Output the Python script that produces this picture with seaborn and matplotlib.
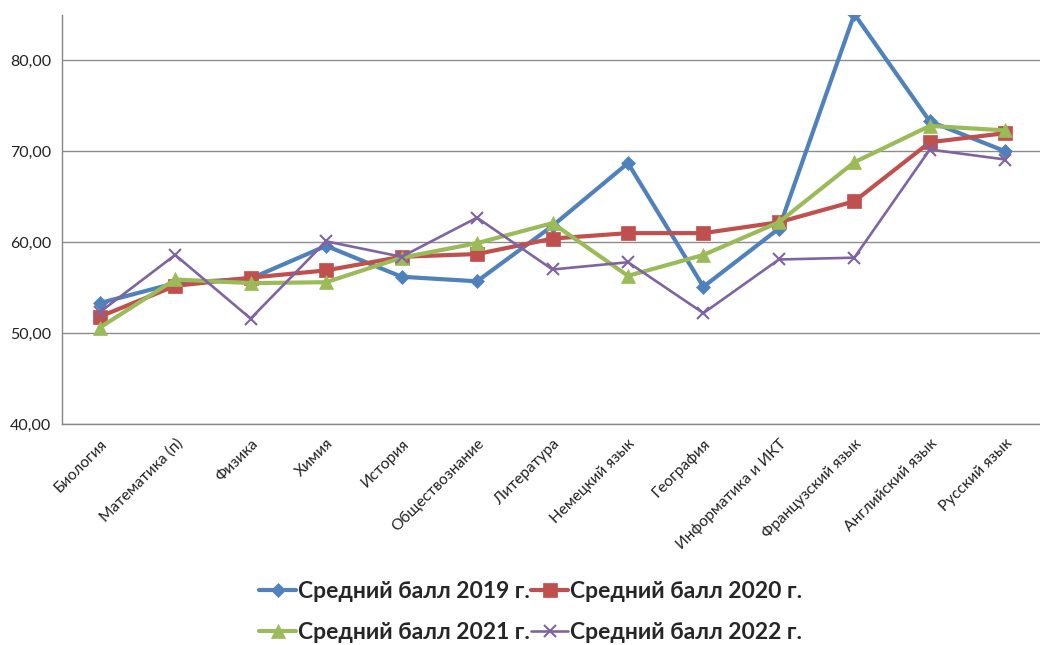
import numpy as np
import pandas as pd
import matplotlib
matplotlib.use("Agg")
import matplotlib.pyplot as plt
import matplotlib.transforms as mtransforms
import seaborn as sns
from matplotlib.ticker import FuncFormatter, MultipleLocator

categories = ['Биология', 'Математика (п)', 'Физика', 'Химия', 'История',
              'Обществознание', 'Литература', 'Немецкий язык', 'География',
              'Информатика и ИКТ', 'Французский язык', 'Английский язык',
              'Русский язык']
score_2019 = [53.3, 55.5, 56.0, 59.6, 56.2, 55.7, 61.8, 68.7, 55.1, 61.5, 85.1, 73.3, 70.0]
score_2020 = [51.8, 55.2, 56.1, 56.9, 58.4, 58.7, 60.4, 61.0, 61.0, 62.2, 64.5, 71.0, 72.0]
score_2021 = [50.6, 55.9, 55.5, 55.6, 58.3, 59.9, 62.1, 56.3, 58.6, 62.2, 68.8, 72.8, 72.3]
score_2022 = [52.3, 58.6, 51.6, 60.1, 58.4, 62.7, 57.0, 57.8, 52.2, 58.1, 58.3, 70.2, 69.1]
series_names = ['Средний балл 2019 г.', 'Средний балл 2020 г.',
                'Средний балл 2021 г.', 'Средний балл 2022 г.']

sns.set_theme(style="white")
plt.rcParams['font.family'] = ['Lato', 'DejaVu Sans']

fig = plt.figure(figsize=(10.4, 6.45), dpi=100)
ax = fig.add_axes([62/1040, 1 - 424/645, (1043 - 62)/1040, (424 - 15)/645])

pos = np.arange(len(categories))
series = [score_2019, score_2020, score_2021, score_2022]
colors = ['#4F81BD', '#C0504D', '#9BBB59', '#8064A2']
markers = ['D', 's', '^', 'x']
msizes = [7.5, 10, 10, 9]
lws = [3.0, 3.0, 3.0, 1.9]

for name, vals, c, m, ms, lw in zip(series_names, series, colors, markers, msizes, lws):
    df = pd.DataFrame({'x': pos, 'y': vals})
    sns.lineplot(data=df, x='x', y='y', ax=ax, color=c, marker=m, markersize=ms,
                 linewidth=lw, markeredgecolor=c, markeredgewidth=1.5 if m == 'x' else 0.5,
                 label=name, legend=False)

ax.set_xlim(-0.5, len(categories) - 0.5)
ax.set_ylim(40, 85)
ax.yaxis.set_major_locator(MultipleLocator(10))
ax.yaxis.set_major_formatter(FuncFormatter(lambda v, p: f"{v:.2f}".replace('.', ',')))
ax.set_xticks(pos)
ax.set_xticklabels(categories, rotation=45, ha='right', rotation_mode='anchor',
                   fontsize=11.2, color='#222222')
offset = mtransforms.ScaledTranslation(-5/100, 0, fig.dpi_scale_trans)
for lbl in ax.get_xticklabels():
    lbl.set_transform(lbl.get_transform() + offset)
ax.set_xticks(np.arange(-0.5, len(categories), 1.0), minor=True)
ax.tick_params(axis='x', which='major', length=0, pad=9)
ax.tick_params(axis='x', which='minor', length=5, width=1, color='#868686', direction='out')
ax.tick_params(axis='y', length=5, width=1, color='#868686', direction='out',
               labelsize=11.5, labelcolor='#222222', pad=3)
ax.set_xlabel('')
ax.set_ylabel('')

ax.grid(axis='y', color='#8C8C8C', linewidth=1.0)
ax.set_axisbelow(True)
for s in ['top', 'right']:
    ax.spines[s].set_visible(False)
for s in ['left', 'bottom']:
    ax.spines[s].set_color('#868686')
    ax.spines[s].set_linewidth(1.0)

handles, labels = ax.get_legend_handles_labels()
order = [0, 2, 1, 3]
leg = fig.legend([handles[i] for i in order], [labels[i] for i in order],
                 loc='center', bbox_to_anchor=(531/1040, 1 - 612/645),
                 ncol=2, frameon=False, handlelength=1.6, handletextpad=0.1,
                 columnspacing=0.05, labelspacing=0.9,
                 prop={'family': ['Lato', 'DejaVu Sans'], 'weight': 'bold', 'size': 16.5})

fig.savefig('out.png', dpi=100)
